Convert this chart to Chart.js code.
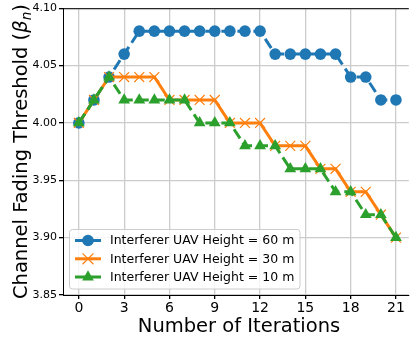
<!DOCTYPE html>
<html>
<head>
<meta charset="utf-8">
<script src="https://cdn.jsdelivr.net/npm/chart.js@4.4.0/dist/chart.umd.min.js"></script>
<style>
  html, body { margin: 0; padding: 0; background: #ffffff; overflow: hidden; }
  #caja { width: 417px; height: 345px; position: relative; }
  #grafica { display: block; }
</style>
</head>
<body>
<div id="caja"><canvas id="grafica" width="417" height="345"></canvas></div>
<script>
// Datos
var iteraciones = [0, 1, 2, 3, 4, 5, 6, 7, 8, 9, 10, 11, 12, 13, 14, 15, 16, 17, 18, 19, 20, 21];
var altura60 = [4.00, 4.02, 4.04, 4.06, 4.08, 4.08, 4.08, 4.08, 4.08, 4.08, 4.08, 4.08, 4.08, 4.06, 4.06, 4.06, 4.06, 4.06, 4.04, 4.04, 4.02, 4.02];
var altura30 = [4.00, 4.02, 4.04, 4.04, 4.04, 4.04, 4.02, 4.02, 4.02, 4.02, 4.00, 4.00, 4.00, 3.98, 3.98, 3.98, 3.96, 3.96, 3.94, 3.94, 3.92, 3.90];
var altura10 = [4.00, 4.02, 4.04, 4.02, 4.02, 4.02, 4.02, 4.02, 4.00, 4.00, 4.00, 3.98, 3.98, 3.98, 3.96, 3.96, 3.96, 3.94, 3.94, 3.92, 3.92, 3.90];
var etiquetas = ["Interferer UAV Height = 60 m", "Interferer UAV Height = 30 m", "Interferer UAV Height = 10 m"];
var ticksX = [0, 3, 6, 9, 12, 15, 18, 21];
var ticksY = [3.85, 3.90, 3.95, 4.00, 4.05, 4.10];

var FUENTE = "'DejaVu Sans', sans-serif";

function puntos(valores) {
  return valores.map(function(v, i) { return { x: iteraciones[i], y: v }; });
}

// Dibuja un marcador simple (para la leyenda)
function marcador(ctx, tipo, x, y, color) {
  ctx.save();
  ctx.setLineDash([]);
  ctx.fillStyle = color;
  ctx.strokeStyle = color;
  if (tipo === 'circle') {
    ctx.beginPath();
    ctx.arc(x, y, 5.8, 0, Math.PI * 2);
    ctx.fill();
  } else if (tipo === 'crossRot') {
    var r = 5.5 * Math.SQRT1_2 * 1.4;
    ctx.lineWidth = 1.2;
    ctx.beginPath();
    ctx.moveTo(x - r, y - r); ctx.lineTo(x + r, y + r);
    ctx.moveTo(x - r, y + r); ctx.lineTo(x + r, y - r);
    ctx.stroke();
  } else {
    var t = 6.8;
    ctx.beginPath();
    ctx.moveTo(x, y - t);
    ctx.lineTo(x + t * Math.sin(2 * Math.PI / 3), y - t * Math.cos(2 * Math.PI / 3));
    ctx.lineTo(x + t * Math.sin(4 * Math.PI / 3), y - t * Math.cos(4 * Math.PI / 3));
    ctx.closePath();
    ctx.fill();
  }
  ctx.restore();
}

// Titulos, borde superior y leyenda dentro del area
var extras = {
  id: 'extras',
  afterDraw: function(chart) {
    var ctx = chart.ctx;
    var area = chart.chartArea;

    // borde superior
    ctx.save();
    ctx.strokeStyle = '#000000';
    ctx.lineWidth = 1;
    ctx.beginPath();
    ctx.moveTo(area.left, area.top + 0.5);
    ctx.lineTo(area.right, area.top + 0.5);
    ctx.stroke();
    ctx.restore();

    // titulo eje x
    ctx.save();
    ctx.fillStyle = '#000000';
    ctx.font = "19.5px " + FUENTE;
    ctx.textAlign = 'center';
    ctx.textBaseline = 'alphabetic';
    ctx.fillText('Number of Iterations', 239, 332);
    ctx.restore();

    // titulo eje y con beta_n
    ctx.save();
    ctx.fillStyle = '#000000';
    ctx.translate(26.5, (area.top + area.bottom) / 2);
    ctx.rotate(-Math.PI / 2);
    ctx.textBaseline = 'alphabetic';
    ctx.textAlign = 'left';
    var partes = [
      { t: 'Channel Fading Threshold (', f: "19.5px " + FUENTE, dy: 0 },
      { t: '\u03B2', f: "italic 19.5px " + FUENTE, dy: 0 },
      { t: 'n', f: "italic 13.6px " + FUENTE, dy: 4 },
      { t: ')', f: "19.5px " + FUENTE, dy: 0 }
    ];
    var total = 0;
    partes.forEach(function(p) { ctx.font = p.f; p.w = ctx.measureText(p.t).width; total += p.w; });
    var px = -total / 2;
    partes.forEach(function(p) {
      ctx.font = p.f;
      ctx.fillText(p.t, px, p.dy);
      px += p.w;
    });
    ctx.restore();

    // leyenda
    ctx.save();
    ctx.fillStyle = 'rgba(255,255,255,0.8)';
    ctx.strokeStyle = '#cccccc';
    ctx.lineWidth = 1;
    ctx.beginPath();
    ctx.roundRect(69.5, 229.5, 230.5, 59.5, 3);
    ctx.fill();
    ctx.stroke();
    ctx.font = "12.5px " + FUENTE;
    ctx.textBaseline = 'middle';
    ctx.textAlign = 'left';
    chart.data.datasets.forEach(function(ds, i) {
      var y = 240.5 + i * 18.3;
      ctx.strokeStyle = ds.borderColor;
      ctx.lineWidth = ds.borderWidth;
      ctx.setLineDash(ds.borderDash || []);
      ctx.beginPath();
      ctx.moveTo(75, y);
      ctx.lineTo(101, y);
      ctx.stroke();
      ctx.setLineDash([]);
      marcador(ctx, ds.pointStyle, 88, y, ds.borderColor);
      ctx.fillStyle = '#000000';
      ctx.fillText(ds.label, 110, y + 0.5);
    });
    ctx.restore();
  }
};

var ctx = document.getElementById('grafica').getContext('2d');
new Chart(ctx, {
  type: 'line',
  data: {
    datasets: [{
      label: etiquetas[0],
      data: puntos(altura60),
      borderColor: '#1f77b4',
      backgroundColor: '#1f77b4',
      borderWidth: 3,
      borderDash: [11, 5],
      pointStyle: 'circle',
      pointRadius: 5.8,
      pointBorderWidth: 0,
      order: 3
    }, {
      label: etiquetas[1],
      data: puntos(altura30),
      borderColor: '#ff7f0e',
      backgroundColor: '#ff7f0e',
      borderWidth: 3,
      pointStyle: 'crossRot',
      pointRadius: 7,
      pointBorderWidth: 1.2,
      order: 2
    }, {
      label: etiquetas[2],
      data: puntos(altura10),
      borderColor: '#2ca02c',
      backgroundColor: '#2ca02c',
      borderWidth: 3,
      borderDash: [11, 5],
      pointStyle: 'triangle',
      pointRadius: 6.8,
      pointBorderWidth: 0,
      order: 1
    }]
  },
  options: {
    responsive: false,
    animation: false,
    devicePixelRatio: 1,
    layout: { padding: { top: 6, right: 0, left: 0, bottom: 0 } },
    plugins: {
      legend: { display: false },
      tooltip: { enabled: false }
    },
    elements: { line: { tension: 0 } },
    scales: {
      x: {
        type: 'linear',
        min: -1.05,
        max: 21.85,
        afterBuildTicks: function(scale) {
          scale.ticks = ticksX.map(function(v) { return { value: v }; });
        },
        afterFit: function(scale) {
          scale.height = 50;
          scale.paddingLeft = 0;
          scale.paddingRight = 0;
        },
        ticks: {
          color: '#000000',
          font: { family: FUENTE, size: 14 },
          padding: 1,
          maxRotation: 0,
          autoSkip: false
        },
        grid: { color: '#cccccc', lineWidth: 1.3, tickColor: '#000000', tickLength: 4 },
        border: { color: '#000000', width: 1 }
      },
      y: {
        min: 3.85,
        max: 4.10,
        afterBuildTicks: function(scale) {
          scale.ticks = ticksY.map(function(v) { return { value: v }; });
        },
        afterFit: function(scale) {
          scale.width = 63;
          scale.paddingTop = 0;
          scale.paddingBottom = 0;
        },
        ticks: {
          color: '#000000',
          font: { family: FUENTE, size: 11 },
          padding: 2,
          autoSkip: false,
          callback: function(v) { return Number(v).toFixed(2); }
        },
        grid: { color: '#cccccc', lineWidth: 1.3, tickColor: '#000000', tickLength: 4 },
        border: { color: '#000000', width: 1 }
      }
    }
  },
  plugins: [extras]
});
</script>
</body>
</html>
